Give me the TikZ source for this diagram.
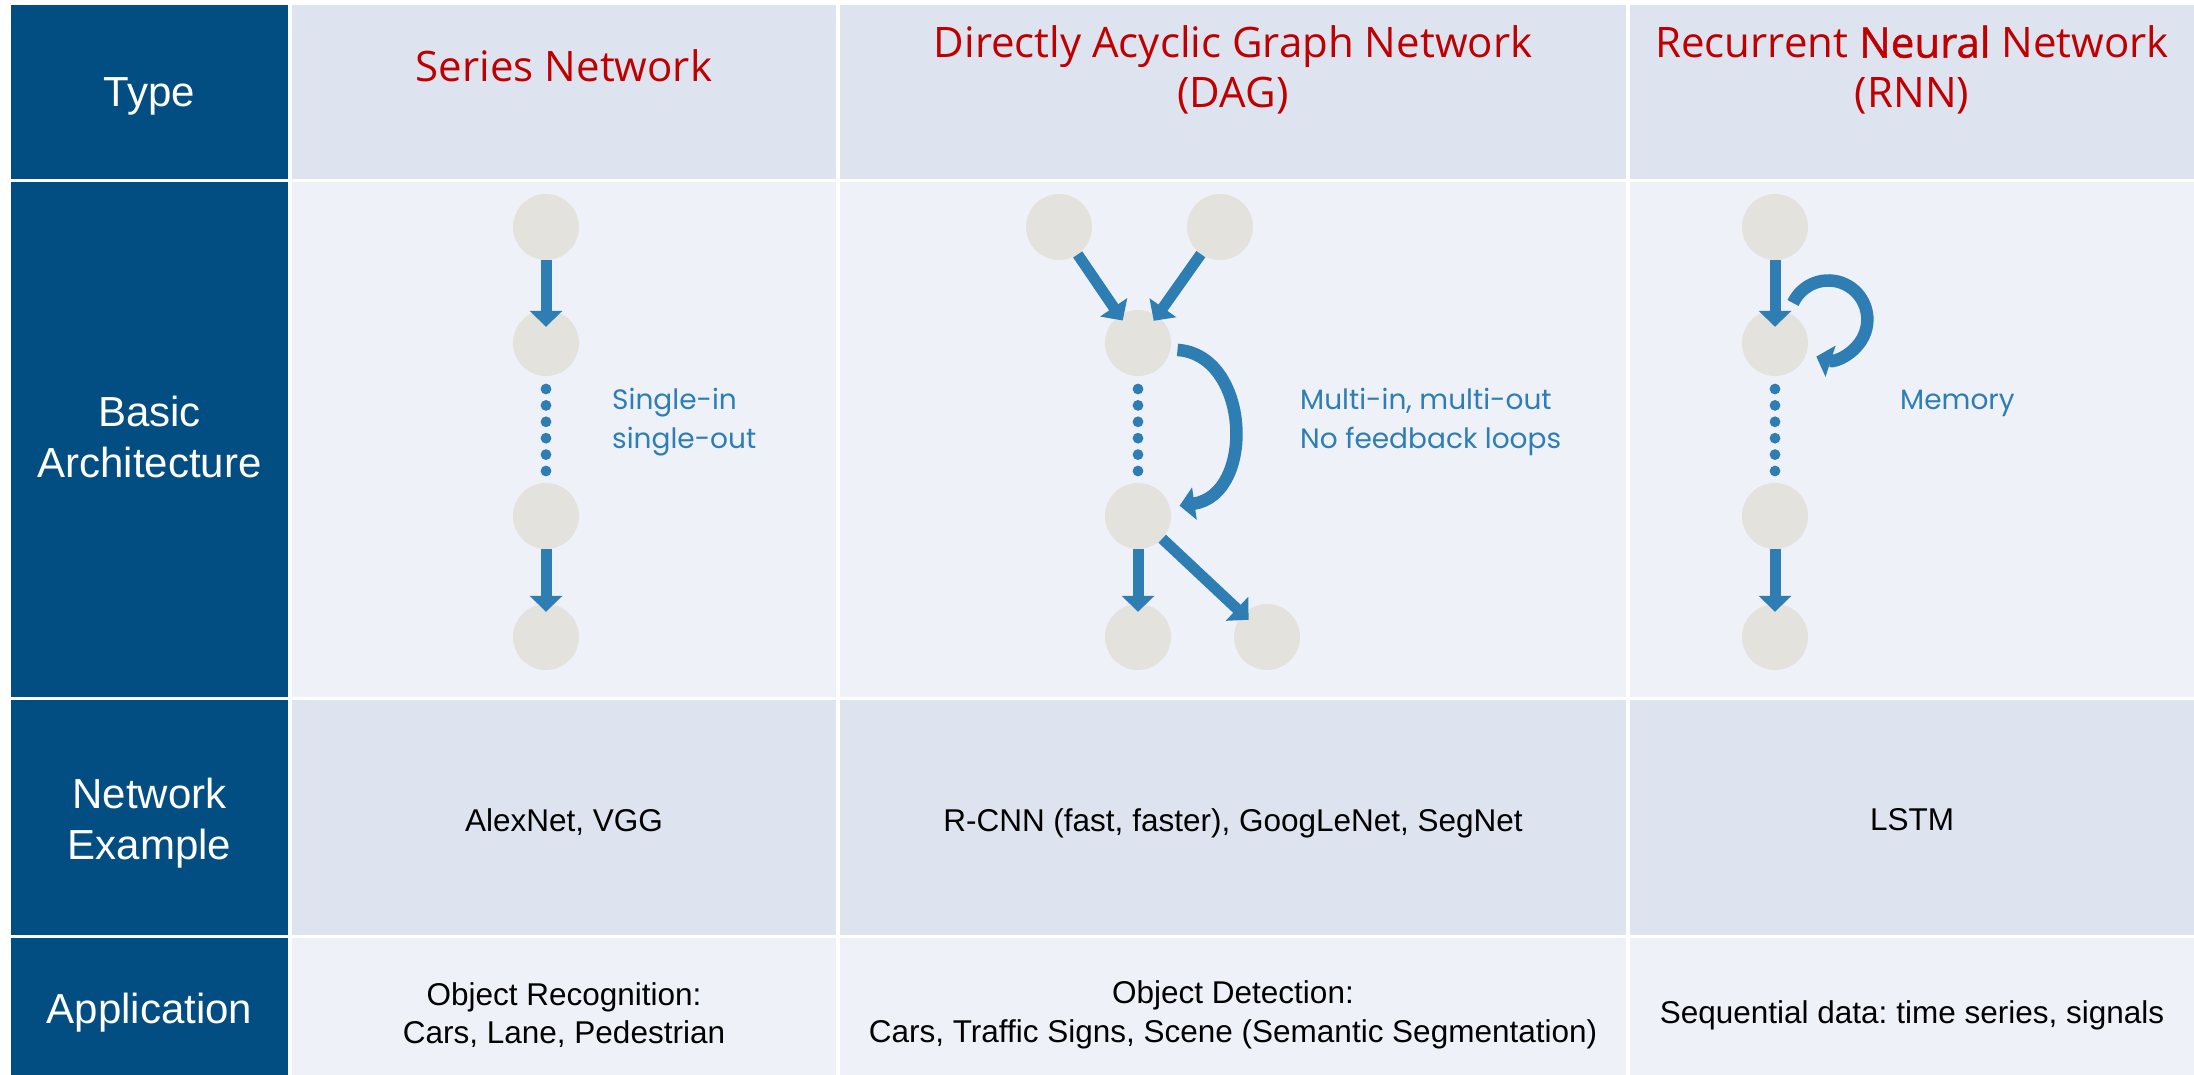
\documentclass[tikz,border=0pt]{standalone}
\usepackage{fontspec}
\setmainfont{Liberation Sans}
\newfontfamily\headfont{Open Sans}
\newfontfamily\headboldfont{Open Sans}[FakeBold=1.2]
\newfontfamily\notefont{Poppins}
\usetikzlibrary{arrows.meta,calc}
\frenchspacing

\definecolor{navy}{HTML}{024D82}
\definecolor{rowdark}{HTML}{DEE4EF}
\definecolor{rowlight}{HTML}{EEF1F8}
\definecolor{bubble}{HTML}{E3E2DD}
\definecolor{flow}{HTML}{2E7EB4}
\definecolor{headred}{HTML}{C00000}

\tikzset{
  rowlabel/.style={text=white, font=\fontsize{42}{51}\selectfont, align=center, inner sep=0pt},
  heading/.style={text=headred, font=\headfont\fontsize{42}{50}\selectfont, align=center, inner sep=0pt},
  entry/.style={text=black, font=\fontsize{31.5}{38.5}\selectfont, align=center, inner sep=0pt},
  note/.style={text=flow, font=\notefont\fontsize{28}{39}\selectfont, align=left, inner sep=0pt, anchor=base west},
  layer/.style={circle, fill=bubble, minimum size=66pt, inner sep=0pt},
  flowarrow/.style={draw=flow, line width=11pt, -{Triangle[width=32pt,length=16pt]}},
  looparrow/.style={draw=flow, line width=12.5pt, -{Triangle[width=32pt,length=15pt]}},
}

\begin{document}
\begin{tikzpicture}[x=1pt, y=-1pt]
\useasboundingbox (0,0) rectangle (2194,1075);
\fill[white] (0,0) rectangle (2194,1075);

% ---- table cells ----
% label column
\fill[navy] (11,5)   rectangle (288,179);
\fill[navy] (11,182) rectangle (288,697);
\fill[navy] (11,700) rectangle (288,935);
\fill[navy] (11,938) rectangle (288,1075);
% content columns
\foreach \xa/\xb in {292/836, 840/1626, 1630/2194} {
  \fill[rowdark]  (\xa,5)   rectangle (\xb,179);
  \fill[rowlight] (\xa,182) rectangle (\xb,697);
  \fill[rowdark]  (\xa,700) rectangle (\xb,935);
  \fill[rowlight] (\xa,938) rectangle (\xb,1075);
}

% ---- row labels ----
\node[rowlabel] (lblType) at (149.5,96.5) {Type};
\node[rowlabel] (lblArch) at (149.5,437) {Basic\\Architecture};
\node[rowlabel] (lblNet)  at (149.5,823) {Network\\Example};
\node[rowlabel] (lblApp)  at (149.5,1013) {Application};

% ---- column headings ----
\node[heading] (hSeries) at (564,66) {Series Network};
\node[heading] (hDag)    at (1233,70) {Directly Acyclic Graph Network\\(DAG)};
\node[heading] (hRnn)    at (1912,70) {Recurrent {\headboldfont Neural} Network\\(RNN)};

% ---- network examples ----
\node[entry] (exSeries) at (564,822) {AlexNet, VGG};
\node[entry] (exDag)    at (1233,823) {R-CNN (fast, faster), GoogLeNet, SegNet};
\node[entry] (exRnn)    at (1912,820) {LSTM};

% ---- applications ----
\node[entry] (apSeries) at (564,1015) {Object Recognition:\\Cars, Lane, Pedestrian};
\node[entry] (apDag)    at (1233,1015) {Object Detection:\\Cars, Traffic Signs, Scene (Semantic Segmentation)};
\node[entry] (apRnn)    at (1912,1015) {Sequential data: time series, signals};

% ---- series network ----
\node[layer] (s1) at (546,227) {};
\node[layer] (s2) at (546,343) {};
\node[layer] (s3) at (546,516) {};
\node[layer] (s4) at (546,637) {};
\draw[flowarrow, shorten >=-17pt] (s1) -- (s2);
\draw[flowarrow, shorten >=-8pt]  (s3) -- (s4);
\foreach \k in {0,...,5} \fill[flow] (546,389+16.4*\k) circle[radius=5.4];
\node[note] (nSeries) at (612,448) {Single-in\\single-out};

% ---- directed acyclic graph ----
\node[layer] (d1) at (1059,227) {};
\node[layer] (d2) at (1220,227) {};
\node[layer] (d3) at (1138,343) {};
\node[layer] (d4) at (1138,516) {};
\node[layer] (d5) at (1138,637) {};
\node[layer] (d6) at (1267,637) {};
\draw[flowarrow, shorten >=-6pt] (d1) -- (d3);
\draw[flowarrow, shorten >=-6pt] (d2) -- (d3);
\draw[looparrow] ([xshift=7pt]d3.-12) .. controls +(73,5) and +(76,-11) .. ([xshift=10pt]d4.18);
\draw[flowarrow, shorten >=-8pt] (d4) -- (d5);
\draw[flowarrow, shorten >=-8pt] (d4) -- (d6);
\foreach \k in {0,...,5} \fill[flow] (1138,389+16.4*\k) circle[radius=5.4];
\node[note] (nDag) at (1300,448) {Multi-in, multi-out\\No feedback loops};

% ---- recurrent network ----
\node[layer] (r1) at (1775,227) {};
\node[layer] (r2) at (1775,343) {};
\node[layer] (r3) at (1775,516) {};
\node[layer] (r4) at (1775,637) {};
\draw[flowarrow, shorten >=-17pt] (r1) -- (r2);
\draw[flowarrow, shorten >=-8pt]  (r3) -- (r4);
\draw[looparrow] ([shift={(18,-40)}]r2.center) arc[start angle=-155, end angle=108, radius=39];
\foreach \k in {0,...,5} \fill[flow] (1775,389+16.4*\k) circle[radius=5.4];
\node[note] (nRnn) at (1900,409) {Memory};
\end{tikzpicture}
\end{document}
